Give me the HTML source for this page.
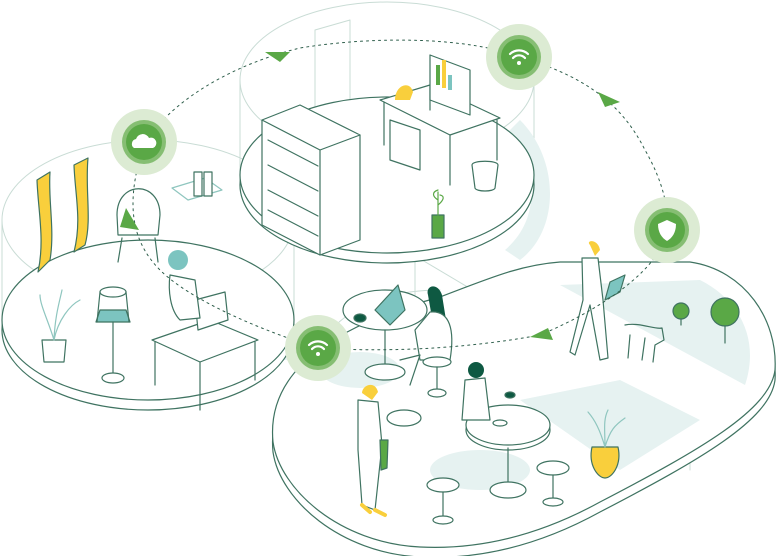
<!DOCTYPE html>
<html><head><meta charset="utf-8"><style>
html,body{margin:0;padding:0;background:#fff;}
svg{display:block;}
</style></head><body>
<svg width="776" height="556" viewBox="0 0 776 556" xmlns="http://www.w3.org/2000/svg" fill="none" stroke="#3f7361" stroke-width="1.2" stroke-linejoin="round" stroke-linecap="round">
<!-- ghost cylinders -->
<g stroke="#c9dcd5" stroke-width="1">
<ellipse cx="148" cy="220" rx="146" ry="80"/>
<line x1="2" y1="220" x2="2" y2="320"/><line x1="294" y1="220" x2="294" y2="320"/>
<ellipse cx="387" cy="80" rx="147" ry="78"/>
<line x1="240" y1="80" x2="240" y2="175"/><line x1="534" y1="80" x2="534" y2="175"/>
<path d="M440,420 L460,290 M300,420 C300,330 360,290 440,290"/>
<path d="M315,30 L350,20 L350,110 M315,30 L315,130"/>
<path d="M380,235 L540,330 L540,440 M485,300 L485,420 M415,260 L415,400 M620,345 L620,480 M560,350 L620,345 M565,390 L565,500 M620,345 L690,390 L690,470"/>
</g>
<!-- shadows -->
<g fill="#e6f2f1" stroke="none">
<path d="M520,120 C560,160 560,230 520,260 L505,250 C540,220 540,170 505,135Z"/>
<path d="M580,275 L700,270 C760,300 770,350 750,380 Z"/>
<path d="M230,260 C270,280 300,320 295,360 L280,360 C285,320 265,290 230,270Z"/>
<ellipse cx="410" cy="360" rx="60" ry="25"/>
<ellipse cx="520" cy="490" rx="60" ry="25"/>
<path d="M560,420 L620,400 L700,440 L630,480Z"/>
<path d="M160,350 L230,330 L260,360 L190,390Z"/>
<path d="M290,140 L340,130 L420,170 L360,190Z"/>
</g>
<!-- top platform -->
<ellipse cx="387" cy="185" rx="147" ry="78" fill="#fff"/>
<ellipse cx="387" cy="175" rx="147" ry="78" fill="#fff"/>
<!-- left platform -->
<ellipse cx="148" cy="330" rx="146" ry="80" fill="#fff"/>
<ellipse cx="148" cy="320" rx="146" ry="80" fill="#fff"/>
<!-- right capsule -->
<path d="M440,307 C490,285 520,275 560,272 L690,272 C745,280 778,330 775,380 C770,420 700,460 600,512 C540,545 480,560 420,557 C340,553 280,500 273,452 C268,400 300,345 440,307Z" fill="#fff"/>
<path d="M440,297 C490,278 520,265 560,262 L690,262 C745,270 778,320 775,370 C770,410 700,450 600,502 C540,535 480,550 420,547 C340,543 280,490 273,442 C268,390 300,335 440,297Z" fill="#fff"/>
<g fill="#e6f2f1" stroke="none">
<path d="M560,285 L700,280 C740,300 760,340 745,385Z"/>
<ellipse cx="480" cy="470" rx="50" ry="20"/>
<path d="M520,400 L620,380 L700,420 L620,470Z"/>
<ellipse cx="360" cy="370" rx="40" ry="18"/>
</g>
<!-- top platform furniture -->
<g fill="#fff">
<path d="M262,120 L300,105 L360,135 L360,240 L320,255 L262,225Z"/>
<path d="M262,120 L320,150 L360,135 M320,150 L320,255"/>
<path d="M268,140 L318,166 M268,165 L318,191 M268,190 L318,216 M268,210 L318,236"/>
<path d="M380,100 L430,85 L500,118 L450,135Z"/>
<path d="M384,102 L384,145 M450,135 L450,185 M497,120 L497,160 M430,85 L430,110"/>
<path d="M430,55 L470,70 L470,115 L430,100Z"/>
<path d="M390,120 L420,130 L420,170 L390,160Z"/>
<path d="M472,165 C472,160 498,160 498,165 L495,188 C494,192 476,192 475,188Z"/>
<path d="M432,215 L444,215 L444,238 L432,238Z" fill="#5aa846"/>
</g>
<path d="M395,100 C395,85 410,80 413,92 L410,100Z" fill="#f9cf3c" stroke="none"/>
<g stroke="none"><rect x="436" y="65" width="4" height="20" fill="#5aa846"/><rect x="442" y="60" width="4" height="28" fill="#f9cf3c"/><rect x="448" y="75" width="4" height="15" fill="#7cc4c0"/></g>
<path d="M438,215 L438,192 M438,200 C432,196 432,192 438,190 M438,205 C444,200 445,196 440,195" stroke="#5aa846"/>
<!-- left platform items -->
<path d="M37,180 L50,172 C48,200 55,230 50,260 L38,272 C45,240 38,210 37,180Z" fill="#f9cf3c"/>
<path d="M74,165 L88,158 C85,190 92,220 85,245 L74,252 C82,220 75,195 74,165Z" fill="#f9cf3c"/>
<path d="M117,215 C117,180 160,180 160,215 L158,235 L118,235Z" fill="#fff"/>
<path d="M122,238 L118,262 M155,238 L158,262"/>
<path d="M172,188 L205,178 L222,190 L188,200Z" stroke="#8fc6bf" fill="#fff"/>
<rect x="194" y="172" width="8" height="24" fill="#fff"/><rect x="204" y="172" width="8" height="24" fill="#fff"/>
<path d="M100,310 L126,310 L130,322 L96,322Z" fill="#7cc4c0"/>
<ellipse cx="113" cy="292" rx="13" ry="5" fill="#fff"/>
<path d="M100,292 L97,322 M126,292 L129,322"/>
<path d="M113,322 L113,378"/><ellipse cx="113" cy="378" rx="11" ry="5" fill="#fff"/>
<path d="M42,340 L66,340 L64,362 L44,362Z" fill="#fff"/>
<path d="M54,340 C48,320 40,305 40,295 M54,340 C58,320 70,305 80,300 M54,340 C55,315 60,300 62,290" stroke="#8fc6bf"/>
<path d="M152,340 L210,320 L258,340 L200,362Z" fill="#fff"/>
<path d="M155,342 L155,385 M200,362 L200,410 M255,342 L255,380"/>
<path d="M195,300 L225,292 L228,320 L198,330Z" fill="#fff"/>
<circle cx="178" cy="260" r="10" fill="#7cc4c0" stroke="none"/>
<path d="M170,275 C168,290 170,310 180,320 L200,318 L195,280Z" fill="#fff"/>
<!-- right platform items -->
<ellipse cx="385" cy="310" rx="42" ry="20" fill="#fff"/>
<path d="M385,330 L385,370"/><ellipse cx="385" cy="372" rx="20" ry="8" fill="#fff"/>
<path d="M375,310 L398,285 L405,310 L390,325Z" fill="#7cc4c0"/>
<ellipse cx="360" cy="318" rx="6" ry="4" fill="#0e5942"/>
<path d="M428,295 C425,285 438,282 442,295 L446,320 L432,318Z" fill="#0e5942" stroke="none"/>
<path d="M430,312 C450,310 455,330 450,360 L420,360 L415,330Z" fill="#fff"/>
<path d="M400,360 L420,355 L410,385"/>
<ellipse cx="437" cy="362" rx="14" ry="5" fill="#fff"/><path d="M437,367 L437,392"/><ellipse cx="437" cy="393" rx="9" ry="4" fill="#fff"/>
<ellipse cx="508" cy="430" rx="42" ry="20" fill="#fff"/>
<ellipse cx="508" cy="425" rx="42" ry="20" fill="#fff"/>
<path d="M508,448 L508,485"/><ellipse cx="508" cy="490" rx="18" ry="8" fill="#fff"/>
<ellipse cx="500" cy="423" rx="7" ry="3"/>
<circle cx="476" cy="370" r="8" fill="#0e5942" stroke="none"/>
<path d="M465,380 L485,378 L490,420 L462,420Z" fill="#fff"/>
<ellipse cx="510" cy="395" rx="5" ry="3" fill="#0e5942"/>
<ellipse cx="443" cy="485" rx="16" ry="7" fill="#fff"/><path d="M443,492 L443,518"/><ellipse cx="443" cy="520" rx="10" ry="4" fill="#fff"/>
<ellipse cx="553" cy="468" rx="16" ry="7" fill="#fff"/><path d="M553,475 L553,500"/><ellipse cx="553" cy="502" rx="10" ry="4" fill="#fff"/>
<path d="M592,447 L618,447 C622,465 612,478 605,478 C598,478 588,465 592,447Z" fill="#f9cf3c"/>
<path d="M605,447 C600,430 595,420 588,412 M605,447 C610,430 615,425 625,418 M605,447 C605,430 603,420 608,410" stroke="#8fc6bf"/>
<path d="M362,393 C362,385 375,380 378,392 L372,400Z" fill="#f9cf3c" stroke="none"/>
<path d="M358,400 L378,402 L382,445 L375,510 L362,505 L358,450Z" fill="#fff"/>
<path d="M380,440 L388,440 L387,468 L381,470Z" fill="#5aa846"/>
<ellipse cx="404" cy="418" rx="17" ry="8" fill="#fff"/>
<path d="M362,505 L370,512 M375,510 L385,515" stroke="#f9cf3c" stroke-width="4"/>
<path d="M590,245 C585,240 598,238 600,250 L595,256Z" fill="#f9cf3c" stroke="none"/>
<path d="M582,258 L598,258 L603,300 L608,358 L600,360 L590,305 L575,355 L570,352 L583,300Z" fill="#fff"/>
<path d="M610,282 L625,275 L620,292 L605,300Z" fill="#7cc4c0"/>
<path d="M625,325 C640,322 655,330 662,328 L664,340 L655,345 L653,362 M630,335 L628,358 M645,338 L642,360"/>
<circle cx="681" cy="311" r="8" fill="#5aa846"/><path d="M681,319 L681,325"/>
<circle cx="725" cy="312" r="14" fill="#5aa846"/><path d="M725,326 L725,343"/>
<!-- orbit -->
<path d="M145,142 C180,90 250,60 300,48 C380,35 470,38 520,57 C580,75 620,100 645,150 C665,185 668,210 668,230 C660,270 600,310 540,335 C460,350 380,352 318,348 C260,330 190,300 160,270 C130,240 125,200 145,142Z" stroke="#2f5f4c" stroke-width="1" stroke-dasharray="2 4"/>
<!-- arrows -->
<g fill="#5aa846" stroke="none">
<path d="M265,52 L290,52 L280,62Z"/>
<path d="M598,92 L620,102 L605,107Z"/>
<path d="M530,337 L548,328 L553,340Z"/>
<path d="M126,208 L120,227 L139,230Z"/>
</g>
<!-- icons -->
<g stroke="none">
<circle cx="144" cy="142" r="33" fill="#dcebd3"/><circle cx="144" cy="142" r="22" fill="#86be73"/><circle cx="144" cy="142" r="18" fill="#5aa846"/>
<path d="M134,148 a5,5 0 0 1 2,-9 a7,7 0 0 1 13,-1 a5,5 0 0 1 4,10Z" fill="#fff"/>
<circle cx="519" cy="57" r="33" fill="#dcebd3"/><circle cx="519" cy="57" r="22" fill="#86be73"/><circle cx="519" cy="57" r="18" fill="#5aa846"/>
<circle cx="318" cy="348" r="33" fill="#dcebd3"/><circle cx="318" cy="348" r="22" fill="#86be73"/><circle cx="318" cy="348" r="18" fill="#5aa846"/>
<circle cx="667" cy="230" r="33" fill="#dcebd3"/><circle cx="667" cy="230" r="22" fill="#86be73"/><circle cx="667" cy="230" r="18" fill="#5aa846"/>
<path d="M667,220 L676,224 C676,233 672,238 667,241 C662,238 658,233 658,224Z" fill="#fff"/>
</g>
<g stroke="#fff" stroke-width="2.2" fill="none">
<path d="M510,54 a13,13 0 0 1 18,0 M513,58 a8,8 0 0 1 12,0"/>
<path d="M309,345 a13,13 0 0 1 18,0 M312,349 a8,8 0 0 1 12,0"/>
</g>
<circle cx="519" cy="63" r="2" fill="#fff" stroke="none"/><circle cx="318" cy="354" r="2" fill="#fff" stroke="none"/>
</svg>
</body></html>
